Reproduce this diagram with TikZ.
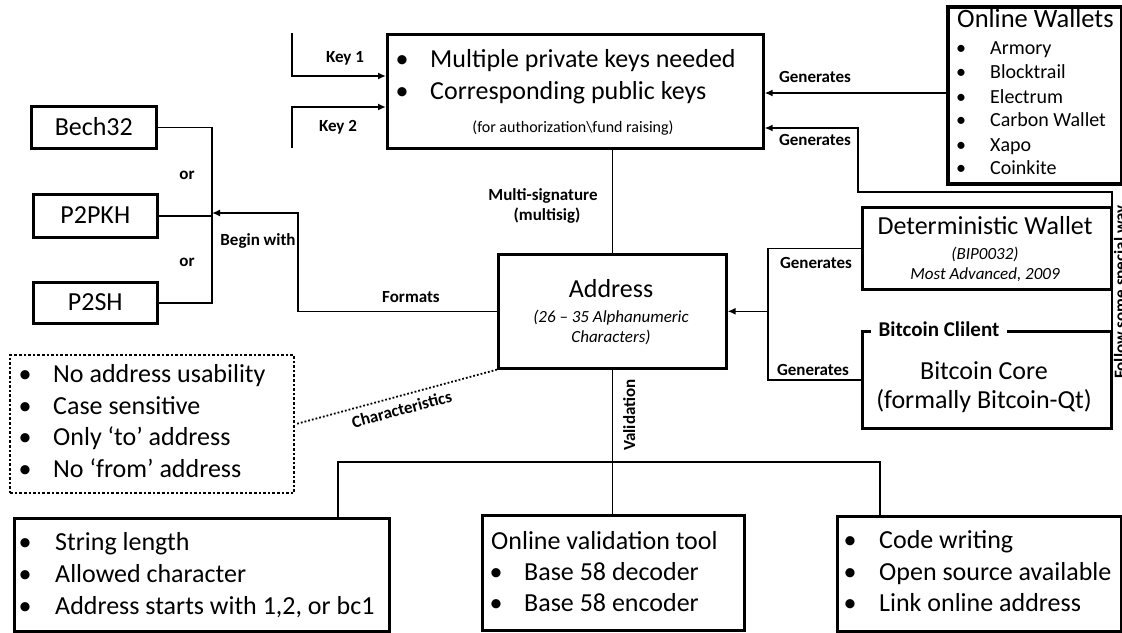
\documentclass[tikz,border=0pt]{standalone}
\usepackage{fontspec}
\setmainfont{Carlito}
\usetikzlibrary{arrows.meta}
\begin{document}
\begin{tikzpicture}[x=1pt,y=-1pt,
  box/.style={draw, line width=2.6pt, inner sep=0pt, anchor=north west},
  ln/.style={line width=1.6pt},
  arr/.style={ln, -{Latex[length=8pt,width=7pt]}},
  big/.style={inner sep=0pt, text height=19.5pt, text depth=3.9pt, font=\fontsize{26}{31}\selectfont},
  ttl/.style={inner sep=0pt, text height=19.9pt, text depth=4pt, font=\fontsize{26.5}{32}\selectfont},
  mid/.style={inner sep=0pt, text height=15pt, text depth=3pt, font=\fontsize{20}{24}\selectfont},
  lab/.style={inner sep=0pt, text height=12.75pt, text depth=2.55pt, font=\bfseries\fontsize{17}{20}\selectfont},
  ital/.style={inner sep=0pt, text height=12.75pt, text depth=2.55pt, font=\itshape\fontsize{17}{20}\selectfont},
  small/.style={inner sep=0pt, text height=12pt, text depth=2.4pt, font=\fontsize{16}{19}\selectfont},
]
\useasboundingbox (0,0) rectangle (1122,632);

% ---------- boxes ----------
\node[box, minimum width=376pt, minimum height=114pt] (keys) at (386,33) {};
\node[box, line width=3.5pt, minimum width=174pt, minimum height=177pt] (ow) at (946,5) {};
\node[box, minimum width=125pt, minimum height=42pt] (bech) at (30,105) {};
\node[box, minimum width=124pt, minimum height=43pt] (p2pkh) at (32,193) {};
\node[box, minimum width=124pt, minimum height=41pt] (p2sh) at (32,281) {};
\node[box, minimum width=228pt, minimum height=114pt] (addr) at (497,253) {};
\node[box, minimum width=249pt, minimum height=82pt] (dw) at (861,206) {};
\node[box, minimum width=249pt, minimum height=97pt] (bc) at (861,330) {};
\node[box, dotted, line width=2.4pt, minimum width=284pt, minimum height=138pt] (dot) at (9,354) {};
\node[box, minimum width=375pt, minimum height=113pt] (bl) at (13,517) {};
\node[box, minimum width=262pt, minimum height=115pt] (mb) at (481,514) {};
\node[box, minimum width=284pt, minimum height=115pt] (rb) at (836,515) {};

% ---------- helper coordinates ----------
\coordinate (k1) at (292,33);
\coordinate (k1e) at (292,76);
\coordinate (k2) at (292,148);
\coordinate (k2e) at (292,107);
\coordinate (g1) at (946,93);
\coordinate (c1) at (1112,192);
\coordinate (c2) at (858,192);
\coordinate (c3) at (858,128);
\coordinate (bx) at (212,0);
\coordinate (fx) at (298,213);
\coordinate (gx) at (768,0);
\coordinate (v1) at (338,462);
\coordinate (v2) at (880,462);

% ---------- connectors ----------
\draw[arr] (k1) -- (k1e) -- (k1e -| keys.west);
\draw[arr] (k2) -- (k2e) -- (k2e -| keys.west);
\draw[arr] (g1 -| ow.west) -- (g1 -| keys.east);
\draw[arr] (bc.east) -| (c1) -- (c2) -- (c3) -- (c3 -| keys.east);
\draw[ln] (bech.east) -- (bech.east -| bx) -- (p2sh.east -| bx) -- (p2sh.east);
\draw[ln] (p2pkh.east) -- (p2pkh.east -| bx);
\draw[arr] (addr.west) -| (fx) -- (fx -| bx);
\draw[ln] (keys.south -| addr.north) -- (addr.north);
\draw[ln] (addr.south) -- (addr.south |- mb.north);
\draw[ln] (v1 |- bl.north) -- (v1) -- (v2) -- (v2 |- rb.north);
\draw[arr] (gx |- addr.east) -- (addr.east);
\draw[ln] (dw.west) -- (dw.west -| gx) -- (bc.west -| gx) -- (bc.west);
\draw[dotted, line width=1.8pt] (addr.south west) -- (dot.east);

% ---------- texts in boxes ----------
\node[big] at (402,60) {•};
\node[big, anchor=west] at (430,60) {Multiple private keys needed};
\node[big] at (402,92) {•};
\node[big, anchor=west] at (430,92) {Corresponding public keys};
\node[small] at (573,128) {(for authorization\textbackslash fund raising)};

\node[ttl, anchor=west] at (957,20) {Online Wallets};
\foreach \t/\y in {Armory/48, Blocktrail/72, Electrum/97, Carbon Wallet/120, Xapo/145, Coinkite/168}{
  \node[mid] at (961,\y) {•};
  \node[mid, anchor=west] at (990,\y) {\t};
}

\node[big] at (bech.center) {Bech32};
\node[big] at (p2pkh.center) {P2PKH};
\node[big] at (p2sh.center) {P2SH};

\node[big] at (611,290) {Address};
\node[ital] at (611,317) {(26 – 35 Alphanumeric};
\node[ital] at (611,337) {Characters)};

\node[big] at (985,227) {Deterministic Wallet};
\node[ital] at (985,254) {(BIP0032)};
\node[ital] at (985,274) {Most Advanced, 2009};

\node[big] at (984,372) {Bitcoin Core};
\node[big] at (984,401) {(formally Bitcoin-Qt)};
\node[font=\bfseries\fontsize{21}{25}\selectfont, text height=15.5pt, text depth=3pt, fill=white, inner xsep=8pt, inner ysep=2pt] at (939,330) {Bitcoin Clilent};

\foreach \t/\y in {No address usability/375, Case sensitive/407, Only ‘to’ address/438, No ‘from’ address/470}{
  \node[big] at (25,\y) {•};
  \node[big, anchor=west] at (53,\y) {\t};
}
\foreach \t/\y in {String length/543, Allowed character/575, {Address starts with 1,2, or bc1}/607}{
  \node[big] at (25,\y) {•};
  \node[big, anchor=west] at (55,\y) {\t};
}
\node[big, anchor=west] at (491,542) {Online validation tool};
\foreach \t/\y in {Base 58 decoder/573, Base 58 encoder/604}{
  \node[big] at (496,\y) {•};
  \node[big, anchor=west] at (524,\y) {\t};
}
\foreach \t/\y in {Code writing/541, Open source available/573, Link online address/604}{
  \node[big] at (850,\y) {•};
  \node[big, anchor=west] at (879,\y) {\t};
}

% ---------- connector labels ----------
\node[lab] at (345,57) {Key 1};
\node[lab] at (338,126) {Key 2};
\node[lab] at (815,77) {Generates};
\node[lab] at (815,140) {Generates};
\node[lab] at (816,263) {Generates};
\node[lab] at (813,370) {Generates};
\node[lab] at (187,174) {or};
\node[lab] at (187,261) {or};
\node[lab] at (258,240) {Begin with};
\node[lab] at (411,297) {Formats};
\node[lab] at (543,195) {Multi-signature};
\node[lab] at (547,215) {(multisig)};
\node[lab, rotate=90] at (630,415) {Validation};
\node[lab, rotate=14.8] at (402,410) {Characteristics};
\node[lab, rotate=90, anchor=north] at (1113,292) {Follow some special way};
\end{tikzpicture}
\end{document}
